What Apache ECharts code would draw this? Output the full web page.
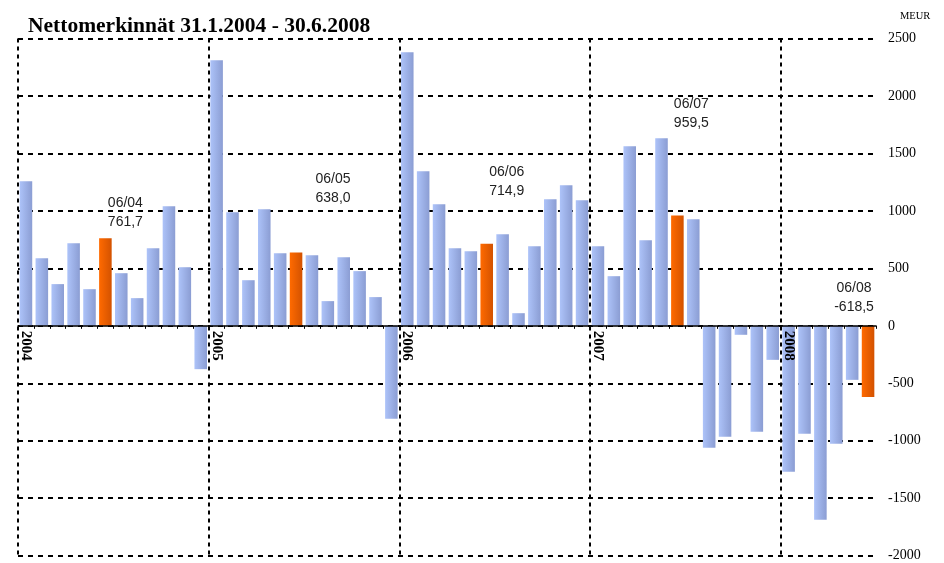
<!DOCTYPE html>
<html>
<head>
<meta charset="utf-8">
<script src="https://cdn.jsdelivr.net/npm/echarts@6/dist/echarts.min.js"></script>
<style>
html,body{margin:0;padding:0;background:#fff;}
#chart{width:944px;height:563px;}
</style>
</head>
<body>
<div id="chart"></div>
<script>
// Monthly categories, Jan 2004 - Jun 2008
const categories = [
  '01/04','02/04','03/04','04/04','05/04','06/04','07/04','08/04','09/04','10/04','11/04','12/04',
  '01/05','02/05','03/05','04/05','05/05','06/05','07/05','08/05','09/05','10/05','11/05','12/05',
  '01/06','02/06','03/06','04/06','05/06','06/06','07/06','08/06','09/06','10/06','11/06','12/06',
  '01/07','02/07','03/07','04/07','05/07','06/07','07/07','08/07','09/07','10/07','11/07','12/07',
  '01/08','02/08','03/08','04/08','05/08','06/08'
];
// Net subscriptions, MEUR
const values2004 = [1258, 589, 363, 719, 319, 761.7, 458, 241, 676, 1041, 510, -377];
const values2005 = [2310, 989, 397, 1015, 632, 638.0, 615, 215, 597, 476, 250, -809];
const values2006 = [2380, 1345, 1058, 676, 650, 714.9, 797, 110, 693, 1102, 1223, 1093];
const values2007 = [693, 432, 1563, 745, 1632, 959.5, 928, -1061, -965, -78, -922, -296];
const values2008 = [-1270, -939, -1687, -1026, -470, -618.5];
const netValues = values2004.concat(values2005, values2006, values2007, values2008);

const yearLabels = ['2004', '2005', '2006', '2007', '2008'];
const yTicks = { min: -2000, max: 2500, interval: 500 };

// Annotated June months
const juneCategories = ['06/04', '06/05', '06/06', '06/07', '06/08'];
const juneTexts = ['761,7', '638,0', '714,9', '959,5', '-618,5'];
const juneLabelOffsets = [[20, -26], [37, -64], [20, -62], [14, -102], [-14, -99]];

const blueGrad = new echarts.graphic.LinearGradient(0, 0, 1, 0, [
  { offset: 0, color: '#adc3f9' }, { offset: 1, color: '#8b9dd3' }
]);
const orangeGrad = new echarts.graphic.LinearGradient(0, 0, 1, 0, [
  { offset: 0, color: '#ff6a00' }, { offset: 1, color: '#d35200' }
]);

const barData = netValues.map((v, i) => {
  const isJune = juneCategories.indexOf(categories[i]) >= 0;
  return { value: v, itemStyle: { color: isJune ? orangeGrad : blueGrad } };
});

const markData = juneCategories.map((c, k) => {
  const idx = categories.indexOf(c);
  return {
    coord: [c, netValues[idx]],
    label: { formatter: c + '\n' + juneTexts[k], offset: juneLabelOffsets[k] }
  };
});

const W = 944, H = 563;
const gridTop = 38.5, gridBottom = 7.3;
const gridH = H - gridTop - gridBottom;
// place the category axis at value 0
const zeroOffset = -gridH * (0 - yTicks.min) / (yTicks.max - yTicks.min);

const chart = echarts.init(document.getElementById('chart'), null, { renderer: 'canvas', width: W, height: H });
chart.setOption({
  animation: false,
  backgroundColor: '#ffffff',
  title: [
    {
      text: 'Nettomerkinnät 31.1.2004 - 30.6.2008',
      left: 23, top: 10,
      textStyle: { fontFamily: 'Liberation Serif', fontWeight: 'bold', fontSize: 21.5, color: '#000' }
    },
    {
      text: 'MEUR',
      left: 895, top: 6,
      textStyle: { fontFamily: 'Liberation Serif', fontWeight: 'normal', fontSize: 10.5, color: '#000' }
    }
  ],
  grid: { left: 18, right: 68, top: gridTop, bottom: gridBottom, containLabel: false, outerBoundsMode: 'none' },
  xAxis: {
    type: 'category',
    data: categories,
    boundaryGap: true,
    offset: zeroOffset,
    z: 5,
    axisLine: { show: true, onZero: false, lineStyle: { color: '#000', width: 1.5 } },
    axisTick: { show: true, length: 3, interval: 0, lineStyle: { color: '#000', width: 1 } },
    axisLabel: {
      interval: (i) => i % 12 === 0,
      formatter: (val, i) => yearLabels[Math.floor(i / 12)],
      rotate: -90,
      margin: 5,
      padding: [5, 0, 0, 0],
      hideOverlap: false,
      fontFamily: 'Liberation Serif', fontWeight: 'bold', fontSize: 15, color: '#000'
    },
    splitLine: {
      show: true,
      showMinLine: true,
      showMaxLine: false,
      interval: (i) => i % 12 === 0,
      lineStyle: { color: '#000', width: 2, type: [4, 4] }
    }
  },
  yAxis: {
    type: 'value',
    position: 'right',
    min: yTicks.min, max: yTicks.max, interval: yTicks.interval,
    axisLine: { show: false },
    axisTick: { show: false },
    axisLabel: {
      margin: 12, align: 'left',
      formatter: (v) => String(v),
      fontFamily: 'Liberation Serif', fontSize: 14, color: '#000'
    },
    splitLine: { show: true, lineStyle: { color: '#000', width: 2, type: [5, 5] } }
  },
  series: [{
    type: 'bar',
    data: barData,
    barCategoryGap: '21%',
    markPoint: {
      symbol: 'rect',
      symbolSize: 1,
      itemStyle: { color: 'rgba(0,0,0,0)' },
      label: {
        show: true, position: 'inside',
        fontFamily: 'Liberation Sans', fontSize: 14, lineHeight: 19, color: '#222'
      },
      data: markData
    }
  }]
});
</script>
</body>
</html>
